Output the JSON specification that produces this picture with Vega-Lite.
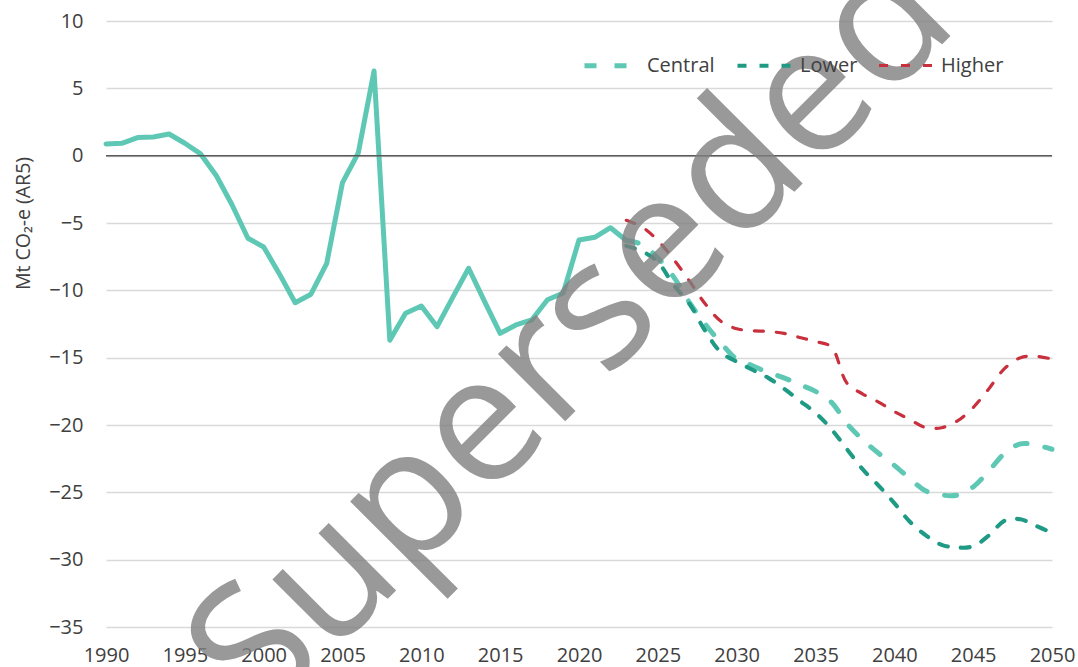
{
  "$schema": "https://vega.github.io/schema/vega-lite/v6.json",
  "width": 946,
  "height": 606,
  "autosize": {"type": "none"},
  "padding": {"left": 106, "top": 21, "right": 26, "bottom": 40},
  "background": "white",
  "config": {
    "view": {"stroke": null},
    "font": "Open Sans",
    "legend": {
      "orient": "none",
      "legendX": 476,
      "legendY": 12,
      "direction": "horizontal",
      "title": null,
      "symbolType": "stroke",
      "symbolSize": 3600,
      "labelFont": "Open Sans",
      "labelFontSize": 20,
      "labelColor": "#404040",
      "labelOffset": 0,
      "columnPadding": 14,
      "padding": 0
    }
  },
  "datasets": {
    "zero": [{"value": 0}],
    "hist": [
      {"year": 1990, "value": 0.87}, {"year": 1991, "value": 0.92}, {"year": 1992, "value": 1.34},
      {"year": 1993, "value": 1.39}, {"year": 1994, "value": 1.61}, {"year": 1995, "value": 0.92},
      {"year": 1996, "value": 0.13}, {"year": 1997, "value": -1.49}, {"year": 1998, "value": -3.66},
      {"year": 1999, "value": -6.13}, {"year": 2000, "value": -6.78}, {"year": 2001, "value": -8.78},
      {"year": 2002, "value": -10.92}, {"year": 2003, "value": -10.29}, {"year": 2004, "value": -7.99},
      {"year": 2005, "value": -2.0}, {"year": 2006, "value": 0.2}, {"year": 2007, "value": 6.29},
      {"year": 2008, "value": -13.7}, {"year": 2009, "value": -11.7}, {"year": 2010, "value": -11.16},
      {"year": 2011, "value": -12.7}, {"year": 2012, "value": -10.5}, {"year": 2013, "value": -8.36},
      {"year": 2014, "value": -10.8}, {"year": 2015, "value": -13.19}, {"year": 2016, "value": -12.57},
      {"year": 2017, "value": -12.2}, {"year": 2018, "value": -10.7}, {"year": 2019, "value": -10.2},
      {"year": 2020, "value": -6.26}, {"year": 2021, "value": -6.06}, {"year": 2022, "value": -5.35},
      {"year": 2023, "value": -6.3}
    ],
    "proj": [
      {"series": "Central", "year": 2023, "value": -6.3}, {"series": "Central", "year": 2024, "value": -6.6},
      {"series": "Central", "year": 2025, "value": -7.6}, {"series": "Central", "year": 2026, "value": -9.0},
      {"series": "Central", "year": 2027, "value": -10.9}, {"series": "Central", "year": 2028, "value": -12.5},
      {"series": "Central", "year": 2029, "value": -13.9}, {"series": "Central", "year": 2030, "value": -15.1},
      {"series": "Central", "year": 2031, "value": -15.6}, {"series": "Central", "year": 2032, "value": -16.1},
      {"series": "Central", "year": 2033, "value": -16.5}, {"series": "Central", "year": 2034, "value": -17.0},
      {"series": "Central", "year": 2035, "value": -17.5}, {"series": "Central", "year": 2036, "value": -18.3},
      {"series": "Central", "year": 2037, "value": -19.9}, {"series": "Central", "year": 2038, "value": -21.1},
      {"series": "Central", "year": 2039, "value": -22.1}, {"series": "Central", "year": 2040, "value": -23.0},
      {"series": "Central", "year": 2041, "value": -24.0}, {"series": "Central", "year": 2042, "value": -24.9},
      {"series": "Central", "year": 2043, "value": -25.2}, {"series": "Central", "year": 2044, "value": -25.2},
      {"series": "Central", "year": 2045, "value": -24.6}, {"series": "Central", "year": 2046, "value": -23.4},
      {"series": "Central", "year": 2047, "value": -22.1}, {"series": "Central", "year": 2048, "value": -21.4},
      {"series": "Central", "year": 2049, "value": -21.5}, {"series": "Central", "year": 2050, "value": -21.8},
      {"series": "Lower", "year": 2023, "value": -6.7}, {"series": "Lower", "year": 2024, "value": -7.1},
      {"series": "Lower", "year": 2025, "value": -7.9}, {"series": "Lower", "year": 2026, "value": -9.6},
      {"series": "Lower", "year": 2027, "value": -11.0}, {"series": "Lower", "year": 2028, "value": -13.0},
      {"series": "Lower", "year": 2029, "value": -14.6}, {"series": "Lower", "year": 2030, "value": -15.3},
      {"series": "Lower", "year": 2031, "value": -15.9}, {"series": "Lower", "year": 2032, "value": -16.5},
      {"series": "Lower", "year": 2033, "value": -17.3}, {"series": "Lower", "year": 2034, "value": -18.2},
      {"series": "Lower", "year": 2035, "value": -19.1}, {"series": "Lower", "year": 2036, "value": -20.3},
      {"series": "Lower", "year": 2037, "value": -21.8}, {"series": "Lower", "year": 2038, "value": -23.3},
      {"series": "Lower", "year": 2039, "value": -24.5}, {"series": "Lower", "year": 2040, "value": -25.8},
      {"series": "Lower", "year": 2041, "value": -27.2}, {"series": "Lower", "year": 2042, "value": -28.2},
      {"series": "Lower", "year": 2043, "value": -28.9}, {"series": "Lower", "year": 2044, "value": -29.1},
      {"series": "Lower", "year": 2045, "value": -29.0}, {"series": "Lower", "year": 2046, "value": -28.2},
      {"series": "Lower", "year": 2047, "value": -27.1}, {"series": "Lower", "year": 2048, "value": -27.0},
      {"series": "Lower", "year": 2049, "value": -27.5}, {"series": "Lower", "year": 2050, "value": -28.0},
      {"series": "Higher", "year": 2023, "value": -4.8}, {"series": "Higher", "year": 2024, "value": -5.3},
      {"series": "Higher", "year": 2025, "value": -6.3}, {"series": "Higher", "year": 2026, "value": -7.7},
      {"series": "Higher", "year": 2027, "value": -9.3}, {"series": "Higher", "year": 2028, "value": -11.0},
      {"series": "Higher", "year": 2029, "value": -12.3}, {"series": "Higher", "year": 2030, "value": -12.85},
      {"series": "Higher", "year": 2031, "value": -13.0}, {"series": "Higher", "year": 2032, "value": -13.05},
      {"series": "Higher", "year": 2033, "value": -13.2}, {"series": "Higher", "year": 2034, "value": -13.5},
      {"series": "Higher", "year": 2035, "value": -13.8}, {"series": "Higher", "year": 2036, "value": -14.2},
      {"series": "Higher", "year": 2037, "value": -16.9}, {"series": "Higher", "year": 2038, "value": -17.7},
      {"series": "Higher", "year": 2039, "value": -18.3}, {"series": "Higher", "year": 2040, "value": -19.0},
      {"series": "Higher", "year": 2041, "value": -19.6}, {"series": "Higher", "year": 2042, "value": -20.2},
      {"series": "Higher", "year": 2043, "value": -20.2}, {"series": "Higher", "year": 2044, "value": -19.7},
      {"series": "Higher", "year": 2045, "value": -18.7}, {"series": "Higher", "year": 2046, "value": -17.3},
      {"series": "Higher", "year": 2047, "value": -15.8}, {"series": "Higher", "year": 2048, "value": -15.0},
      {"series": "Higher", "year": 2049, "value": -14.9}, {"series": "Higher", "year": 2050, "value": -15.1}
    ],
    "mark": [{"year": 2019.65, "value": -13.54, "text": "Superseded"}]
  },
  "layer": [
    {
      "data": {"name": "hist"},
      "mark": {"type": "line", "color": "#5EC8B5", "strokeWidth": 5, "strokeJoin": "round", "strokeCap": "round"},
      "encoding": {
        "x": {
          "field": "year", "type": "quantitative",
          "scale": {"domain": [1990, 2050], "nice": false, "zero": false},
          "axis": {
            "values": [1990, 1995, 2000, 2005, 2010, 2015, 2020, 2025, 2030, 2035, 2040, 2045, 2050],
            "format": "d", "title": null, "grid": false, "domain": false, "ticks": false, "tickSize": 0,
            "labelFont": "Open Sans", "labelFontSize": 20, "labelColor": "#404040", "labelPadding": 18,
            "labelFlush": false, "labelOverlap": false
          }
        },
        "y": {
          "field": "value", "type": "quantitative",
          "scale": {"domain": [-35, 10], "nice": false, "zero": false},
          "axis": {
            "values": [-35, -30, -25, -20, -15, -10, -5, 0, 5, 10],
            "title": "Mt CO₂-e (AR5)", "titleFont": "Open Sans", "titleFontSize": 19.5, "titleFontWeight": "normal",
            "titleColor": "#404040", "titleAngle": 270, "titleX": -83, "titleY": 202,
            "titleAlign": "center", "titleBaseline": "middle",
            "grid": true, "gridColor": "#d9d9d9", "gridWidth": 1.5,
            "domain": false, "ticks": false, "tickSize": 0,
            "labelFont": "Open Sans", "labelFontSize": 20, "labelColor": "#404040", "labelPadding": 23
          }
        }
      }
    },
    {
      "data": {"name": "zero"},
      "mark": {"type": "rule", "color": "#595959", "strokeWidth": 1.5},
      "encoding": {
        "y": {"field": "value", "type": "quantitative"}
      }
    },
    {
      "data": {"name": "proj"},
      "mark": {"type": "line", "interpolate": "catmull-rom", "strokeCap": "round", "strokeJoin": "round"},
      "encoding": {
        "x": {"field": "year", "type": "quantitative"},
        "y": {"field": "value", "type": "quantitative"},
        "color": {
          "field": "series", "type": "nominal",
          "scale": {"domain": ["Central", "Lower", "Higher"], "range": ["#5EC8B5", "#1F9A84", "#C9303D"]}
        },
        "strokeDash": {
          "field": "series", "type": "nominal",
          "scale": {"domain": ["Central", "Lower", "Higher"], "range": [[12, 18], [9, 13], [9, 13]]}
        },
        "strokeWidth": {
          "field": "series", "type": "nominal",
          "scale": {"domain": ["Central", "Lower", "Higher"], "range": [5, 3.2, 3.2]}
        }
      }
    },
    {
      "data": {"name": "mark"},
      "mark": {
        "type": "text", "font": "Open Sans", "fontSize": 178, "angle": 315,
        "align": "center", "baseline": "middle", "color": "#808080", "opacity": 0.8
      },
      "encoding": {
        "x": {"field": "year", "type": "quantitative"},
        "y": {"field": "value", "type": "quantitative"},
        "text": {"field": "text", "type": "nominal"}
      }
    }
  ]
}
